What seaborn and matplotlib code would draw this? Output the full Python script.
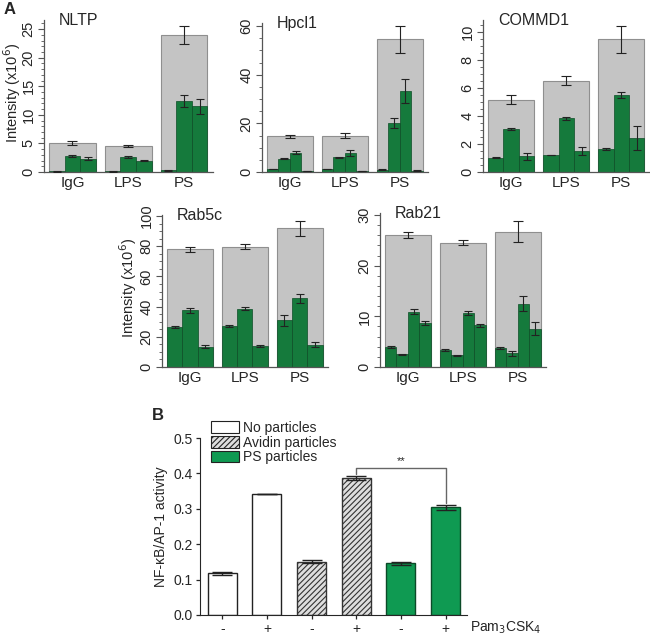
import matplotlib
matplotlib.use('Agg')
import matplotlib.pyplot as plt
import seaborn as sns
import pandas as pd
from matplotlib.patches import Patch
from matplotlib.ticker import AutoMinorLocator, MultipleLocator, FormatStrFormatter

sns.set_style('ticks')
plt.rcParams['font.family'] = ['Liberation Sans', 'DejaVu Sans']
plt.rcParams['hatch.linewidth'] = 0.8

conditions = ['IgG', 'LPS', 'PS']

# panel A: total (grey) and fractions (green), values x10^6
nltp_total = [5.0, 4.5, 24.0]
nltp_total_err = [0.35, 0.2, 1.6]
nltp_frac = [[0.1, 0.1, 0.3], [2.75, 2.6, 12.45], [2.3, 2.0, 11.5]]
nltp_frac_err = [[0.03, 0.03, 0.05], [0.2, 0.2, 1.0], [0.25, 0.1, 1.3]]

hpcl1_total = [14.7, 15.0, 54.6]
hpcl1_total_err = [0.7, 1.2, 5.5]
hpcl1_frac = [[1.3, 1.3, 1.0], [5.5, 6.0, 20.2], [8.0, 7.8, 33.3], [0.3, 0.3, 0.6]]
hpcl1_frac_err = [[0.1, 0.1, 0.3], [0.3, 0.3, 2.1], [0.7, 1.2, 4.8], [0.05, 0.05, 0.1]]

commd1_total = [5.17, 6.53, 9.48]
commd1_total_err = [0.3, 0.33, 0.95]
commd1_frac = [[1.03, 1.21, 1.64], [3.07, 3.83, 5.48], [1.12, 1.53, 2.43]]
commd1_frac_err = [[0.03, 0.03, 0.1], [0.07, 0.1, 0.22], [0.25, 0.28, 0.88]]

rab5c_total = [77.9, 79.6, 92.0]
rab5c_total_err = [1.9, 1.7, 5.0]
rab5c_frac = [[26.5, 27.2, 31.0], [37.6, 38.7, 45.6], [13.3, 13.9, 14.9]]
rab5c_frac_err = [[0.8, 0.9, 3.6], [1.5, 1.0, 2.9], [1.0, 0.7, 1.8]]

rab21_total = [26.0, 24.5, 26.7]
rab21_total_err = [0.6, 0.5, 2.1]
rab21_frac = [[3.9, 3.4, 3.7], [2.5, 2.3, 2.7], [10.9, 10.6, 12.5], [8.6, 8.2, 7.6]]
rab21_frac_err = [[0.2, 0.15, 0.2], [0.1, 0.1, 0.5], [0.5, 0.4, 1.5], [0.4, 0.25, 1.2]]

# panel B
b_bars = ['b1', 'b2', 'b3', 'b4', 'b5', 'b6']
b_groups = ['No particles', 'No particles', 'Avidin particles', 'Avidin particles',
            'PS particles', 'PS particles']
b_pam = ['-', '+', '-', '+', '-', '+']
b_values = [0.118, 0.342, 0.150, 0.387, 0.146, 0.304]
b_err = [0.004, 0.001, 0.004, 0.006, 0.005, 0.008]

GREY = '#c4c4c4'
GREEN_A = '#157a3c'
GREEN_B = '#0f9a52'
AXC = '#555555'


def draw_errors(ax, container, errs, capsize=3.5, lw=0.8):
    xs = [p.get_x() + p.get_width() / 2 for p in container]
    ys = [p.get_height() for p in container]
    ax.errorbar(xs, ys, yerr=errs, fmt='none', ecolor='#222222',
                elinewidth=lw, capsize=capsize, capthick=lw, zorder=5)


def panel_a(fig, rect, name, total, total_err, frac, frac_err, ymax, major, ylabel_x=None):
    ax = fig.add_axes(rect)
    sns.barplot(x=conditions, y=total, color=GREY, width=0.84, saturation=1,
                edgecolor='#8f8f8f', linewidth=0.8, errorbar=None, ax=ax)

    rows = []
    for i, vals in enumerate(frac):
        for c, v in zip(conditions, vals):
            rows.append({'cond': c, 'sub': str(i), 'val': v})
    df = pd.DataFrame(rows)
    sns.barplot(data=df, x='cond', y='val', hue='sub', palette=[GREEN_A] * len(frac),
                width=0.84, dodge=True, saturation=1, edgecolor='#0d4d26',
                linewidth=0.5, errorbar=None, legend=False, ax=ax)

    draw_errors(ax, ax.containers[0], total_err)
    for cont, errs in zip(ax.containers[1:], frac_err):
        draw_errors(ax, cont, errs, capsize=3)

    ax.set_xlim(-0.51, 2.52)
    ax.set_ylim(0, ymax)
    ax.yaxis.set_major_locator(MultipleLocator(major))
    ax.yaxis.set_minor_locator(AutoMinorLocator())
    ax.tick_params(axis='y', which='major', length=4, width=0.8, color=AXC,
                   labelsize=10.5, labelrotation=90, pad=2)
    ax.tick_params(axis='y', which='minor', length=2, width=0.6, color=AXC)
    ax.tick_params(axis='x', length=0, labelsize=11, pad=3)
    for lbl in ax.get_yticklabels():
        lbl.set_va('center')
    sns.despine(ax=ax)
    for s in ['left', 'bottom']:
        ax.spines[s].set_color(AXC)
        ax.spines[s].set_linewidth(0.9)
    ax.set_xlabel('')
    if ylabel_x is not None:
        ax.set_ylabel('Intensity (x10$^6$)', fontsize=10.5)
        ax.yaxis.set_label_coords(ylabel_x, 0.52)
    else:
        ax.set_ylabel('')
    ax.text(0.09, 0.995, name, transform=ax.transAxes, fontsize=11.5, va='center', ha='left')
    return ax


def panel_b(fig, rect):
    ax = fig.add_axes(rect)
    order = ['No particles', 'Avidin particles', 'PS particles']
    colors = {'No particles': 'white', 'Avidin particles': '#dedede',
              'PS particles': GREEN_B}
    sns.barplot(x=b_bars, y=b_values, hue=b_groups, hue_order=order, palette=colors,
                dodge=False, width=0.65, saturation=1, edgecolor='#222222',
                linewidth=1.0, errorbar=None, legend=False, ax=ax)
    for p in ax.containers[1]:
        p.set_hatch('//////')
        p.set_edgecolor('#333333')
    for p in ax.containers[2]:
        p.set_edgecolor('#0b4a28')

    patches = sorted([p for c in ax.containers for p in c if p.get_height() > 0],
                     key=lambda p: p.get_x())
    draw_errors(ax, patches, b_err, capsize=7, lw=1.0)

    x4 = patches[3].get_x() + patches[3].get_width() / 2
    x6 = patches[5].get_x() + patches[5].get_width() / 2
    ax.plot([x4, x4, x6, x6], [0.398, 0.415, 0.415, 0.316], color='#666666', lw=1.0)
    ax.text((x4 + x6) / 2, 0.421, '**', ha='center', va='bottom', fontsize=8)

    ax.set_xlim(-0.5, 5.48)
    ax.set_ylim(0, 0.5)
    ax.yaxis.set_major_locator(MultipleLocator(0.1))
    ax.yaxis.set_major_formatter(FormatStrFormatter('%.1f'))
    ax.set_xticks(range(len(b_pam)))
    ax.set_xticklabels(b_pam)
    ax.tick_params(axis='both', length=3, width=0.9, labelsize=10, pad=2)
    sns.despine(ax=ax)
    ax.set_ylabel('NF-\u03baB/AP-1 activity', fontsize=10, labelpad=4)
    ax.set_xlabel('')

    handles = [Patch(facecolor=colors[g], edgecolor='#222222', lw=0.8,
                     hatch='//////' if g == 'Avidin particles' else None, label=g)
               for g in order]
    ax.legend(handles=handles, loc='upper left', bbox_to_anchor=(211 / 650, 1 - 421 / 640),
              bbox_transform=fig.transFigure, frameon=False, fontsize=10,
              handlelength=2.0, handleheight=0.9, handletextpad=0.3,
              labelspacing=0.05, borderpad=0, borderaxespad=0)
    return ax


fig = plt.figure(figsize=(6.5, 6.4), dpi=100)

panel_a(fig, [44 / 650, 1 - 172 / 640, 169 / 650, 152 / 640], 'NLTP',
        nltp_total, nltp_total_err, nltp_frac, nltp_frac_err, 26.6, 5, ylabel_x=-0.125)
panel_a(fig, [262 / 650, 1 - 172 / 640, 166 / 650, 149 / 640], 'Hpcl1',
        hpcl1_total, hpcl1_total_err, hpcl1_frac, hpcl1_frac_err, 61.3, 20)
panel_a(fig, [483 / 650, 1 - 172 / 640, 167 / 650, 152 / 640], 'COMMD1',
        commd1_total, commd1_total_err, commd1_frac, commd1_frac_err, 10.86, 2)
panel_a(fig, [162 / 650, 1 - 367 / 640, 166 / 650, 152 / 640], 'Rab5c',
        rab5c_total, rab5c_total_err, rab5c_frac, rab5c_frac_err, 100.7, 20, ylabel_x=-0.14)
panel_a(fig, [380 / 650, 1 - 367 / 640, 166 / 650, 154 / 640], 'Rab21',
        rab21_total, rab21_total_err, rab21_frac, rab21_frac_err, 30.4, 10)

panel_b(fig, [200 / 650, 1 - 615 / 640, 267 / 650, 177 / 640])

fig.text(470 / 650, 1 - 628 / 640, 'Pam$_3$CSK$_4$', fontsize=10, va='center', ha='left')
fig.text(4 / 650, 1 - 9 / 640, 'A', fontsize=12, weight='bold', va='center')
fig.text(152 / 650, 1 - 415 / 640, 'B', fontsize=12, weight='bold', va='center')

plt.savefig('out.png', dpi=100)
